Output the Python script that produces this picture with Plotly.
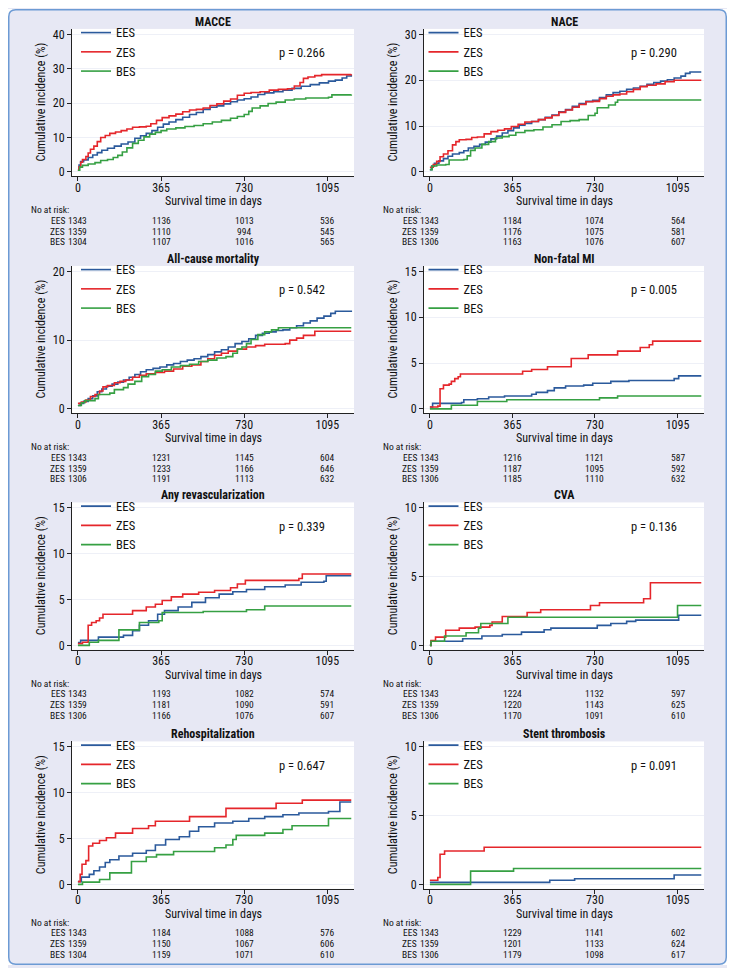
import plotly.graph_objects as go

# page body adds an 8px margin; figure sized to fit the 735x976 window
OFF = 8
W, H = 735 - 2 * OFF, 976 - 2 * OFF

# ------------------------------------------------------------------ data
TICK_DAYS = [0, 365, 730, 1095]
SERIES = ["EES", "ZES", "BES"]
COLORS = {"EES": "#2B5A9C", "ZES": "#E5262B", "BES": "#36A043"}

TITLES = ["MACCE", "NACE", "All-cause mortality", "Non-fatal MI",
          "Any revascularization", "CVA", "Rehospitalization", "Stent thrombosis"]
P_VALUES = ["0.266", "0.290", "0.542", "0.005", "0.339", "0.136", "0.647", "0.091"]
Y_MAX = [40, 30, 20, 15, 15, 10, 15, 10]
Y_STEP = [10, 10, 10, 5, 5, 5, 5, 5]

# MACCE
MACCE_EES_DAY = [0, 5, 12, 25, 45, 65, 85, 105, 130, 160, 190, 220, 250, 275, 300, 325, 350, 375, 400, 430, 460, 490, 520, 550, 580, 610, 640, 670, 700, 730, 760, 790, 820, 860, 900, 940, 980, 1020, 1060, 1100, 1130, 1160, 1180, 1200]
MACCE_EES_PCT = [0.5, 2.0, 3.0, 3.5, 4.2, 4.9, 5.6, 6.3, 6.9, 7.5, 8.1, 8.7, 9.8, 10.5, 11.2, 12.0, 13.0, 13.9, 14.5, 15.2, 15.9, 16.7, 17.3, 18.2, 18.8, 19.2, 19.8, 20.4, 20.9, 21.3, 21.8, 22.5, 23.0, 23.3, 23.8, 24.3, 24.9, 25.4, 25.9, 26.4, 26.7, 27.3, 27.9, 28.3]
MACCE_ZES_DAY = [0, 5, 12, 20, 35, 45, 55, 70, 85, 100, 120, 140, 165, 190, 215, 240, 270, 300, 320, 345, 370, 400, 430, 460, 490, 520, 550, 580, 610, 640, 670, 700, 730, 760, 800, 840, 880, 920, 950, 975, 990, 1010, 1040, 1070, 1200]
MACCE_ZES_PCT = [0.5, 1.5, 2.8, 3.6, 4.5, 5.5, 6.6, 7.5, 8.8, 10.0, 10.6, 11.2, 11.6, 12.0, 12.5, 13.0, 13.1, 13.3, 14.0, 15.0, 15.8, 16.3, 16.8, 17.5, 18.0, 18.2, 18.6, 19.3, 19.8, 20.6, 21.2, 22.3, 22.9, 23.1, 23.3, 23.8, 24.0, 24.2, 25.0, 26.0, 27.2, 27.6, 28.0, 28.3, 28.4]
MACCE_BES_DAY = [0, 8, 20, 45, 75, 100, 130, 155, 175, 195, 215, 240, 265, 290, 315, 340, 365, 390, 430, 470, 510, 550, 590, 630, 670, 700, 730, 750, 765, 800, 835, 870, 910, 950, 1000, 1100, 1115, 1200]
MACCE_BES_PCT = [0.5, 1.4, 1.9, 2.3, 2.7, 3.3, 3.6, 4.2, 4.8, 5.8, 7.0, 8.3, 9.2, 10.2, 11.0, 11.5, 12.0, 12.5, 12.8, 13.2, 13.5, 14.0, 14.5, 15.0, 15.6, 16.1, 16.7, 17.6, 18.6, 19.2, 19.9, 20.3, 20.9, 21.2, 21.5, 21.7, 22.4, 22.5]

# NACE
NACE_EES_DAY = [0, 8, 20, 40, 60, 80, 100, 130, 150, 170, 195, 220, 245, 270, 295, 320, 345, 370, 395, 420, 450, 480, 510, 540, 570, 600, 630, 660, 690, 720, 750, 780, 810, 840, 870, 900, 930, 960, 990, 1020, 1050, 1080, 1110, 1130, 1150, 1200]
NACE_EES_PCT = [0.5, 1.3, 1.9, 2.4, 2.9, 3.4, 3.9, 4.2, 4.6, 5.2, 5.6, 6.0, 6.5, 7.2, 7.8, 8.5, 9.0, 9.6, 10.2, 10.6, 11.0, 11.4, 11.9, 12.4, 13.1, 13.6, 14.3, 14.9, 15.4, 15.6, 16.2, 16.8, 17.3, 17.6, 18.0, 18.3, 18.7, 19.1, 19.5, 19.8, 20.1, 20.5, 20.9, 21.5, 21.8, 21.8]
NACE_ZES_DAY = [0, 15, 30, 45, 60, 80, 100, 115, 130, 160, 185, 210, 240, 270, 300, 330, 360, 390, 420, 450, 480, 510, 540, 570, 600, 630, 660, 690, 720, 750, 780, 810, 840, 870, 900, 930, 960, 1000, 1040, 1080, 1200]
NACE_ZES_PCT = [1.0, 1.6, 2.3, 3.3, 3.9, 4.6, 5.9, 6.6, 7.0, 7.1, 7.5, 7.6, 8.3, 8.8, 9.1, 9.4, 9.9, 10.4, 10.9, 11.0, 11.4, 11.8, 12.3, 13.0, 13.5, 14.1, 14.7, 15.3, 15.4, 16.0, 16.5, 16.8, 17.0, 17.5, 18.0, 18.6, 18.9, 19.2, 19.7, 20.0, 20.0]
NACE_BES_DAY = [0, 10, 30, 70, 85, 150, 165, 180, 200, 230, 260, 290, 320, 350, 380, 420, 460, 500, 540, 580, 620, 660, 700, 730, 740, 790, 820, 830, 1200]
NACE_BES_PCT = [0.5, 1.3, 1.5, 1.6, 2.6, 2.7, 3.5, 4.7, 5.2, 6.0, 6.6, 7.4, 7.7, 8.0, 8.6, 9.0, 9.2, 9.8, 10.3, 11.0, 11.2, 11.4, 12.3, 12.8, 14.0, 14.6, 15.2, 15.7, 15.7]

# All-cause mortality
MORT_EES_DAY = [0, 10, 25, 45, 65, 85, 105, 125, 150, 175, 200, 225, 250, 275, 300, 330, 360, 390, 420, 450, 480, 510, 540, 570, 600, 630, 660, 690, 720, 750, 780, 810, 840, 870, 900, 930, 960, 990, 1020, 1050, 1080, 1110, 1130, 1200]
MORT_EES_PCT = [0.5, 0.8, 1.1, 1.5, 1.9, 2.5, 2.9, 3.3, 3.6, 3.9, 4.2, 4.6, 5.0, 5.4, 5.7, 5.9, 6.1, 6.4, 6.6, 6.9, 7.1, 7.3, 7.6, 7.9, 8.3, 8.6, 9.0, 9.5, 9.8, 10.2, 10.7, 11.0, 11.2, 11.4, 11.5, 11.8, 12.1, 12.5, 12.8, 13.2, 13.5, 13.9, 14.2, 14.3]
MORT_ZES_DAY = [0, 15, 35, 55, 75, 95, 110, 130, 160, 185, 210, 240, 270, 300, 340, 380, 420, 460, 500, 540, 570, 600, 630, 660, 700, 740, 780, 820, 910, 930, 960, 990, 1040, 1200]
MORT_ZES_PCT = [0.8, 1.0, 1.3, 1.8, 2.1, 2.6, 3.2, 3.4, 3.8, 4.0, 4.2, 4.6, 4.9, 5.1, 5.3, 5.5, 5.8, 6.2, 6.4, 6.9, 7.3, 7.8, 8.1, 8.4, 8.7, 9.0, 9.2, 9.4, 9.5, 10.0, 10.3, 10.7, 11.3, 11.3]
MORT_BES_DAY = [0, 15, 30, 75, 90, 140, 160, 200, 220, 250, 280, 310, 340, 370, 410, 450, 490, 530, 570, 610, 650, 680, 700, 720, 740, 760, 790, 820, 850, 880, 1200]
MORT_BES_PCT = [0.5, 0.9, 1.2, 1.5, 2.1, 2.3, 2.8, 3.1, 3.6, 4.0, 4.7, 5.0, 5.5, 5.7, 6.1, 6.3, 6.5, 6.9, 7.1, 7.4, 7.6, 8.1, 8.7, 9.0, 9.5, 10.1, 10.8, 11.2, 11.5, 11.8, 11.8]

# Non-fatal MI
MI_EES_DAY = [0, 12, 140, 150, 210, 260, 330, 450, 470, 520, 550, 600, 680, 720, 800, 880, 1080, 1100, 1200]
MI_EES_PCT = [0.2, 0.6, 0.7, 1.0, 1.1, 1.3, 1.4, 1.6, 1.8, 2.0, 2.3, 2.5, 2.6, 2.8, 3.0, 3.1, 3.3, 3.6, 3.6]
MI_ZES_DAY = [0, 35, 45, 60, 85, 95, 110, 125, 135, 400, 410, 450, 520, 620, 625, 700, 830, 930, 970, 985, 1200]
MI_ZES_PCT = [0.2, 0.3, 2.2, 2.6, 2.7, 3.0, 3.3, 3.5, 3.8, 3.8, 4.1, 4.3, 4.6, 4.6, 5.5, 5.9, 6.3, 6.7, 7.0, 7.4, 7.4]
MI_BES_DAY = [0, 95, 210, 340, 750, 830, 1200]
MI_BES_PCT = [0.0, 0.4, 0.8, 1.0, 1.2, 1.4, 1.4]

# Any revascularization
REV_EES_DAY = [0, 12, 90, 200, 240, 270, 310, 350, 380, 440, 500, 560, 620, 680, 740, 820, 910, 980, 1080, 1090, 1200]
REV_EES_PCT = [0.3, 0.55, 0.9, 1.1, 1.6, 2.2, 2.7, 3.4, 3.8, 4.2, 4.7, 5.2, 5.6, 5.85, 6.1, 6.4, 6.6, 6.9, 7.0, 7.6, 7.6]
REV_ZES_DAY = [0, 20, 45, 60, 80, 95, 110, 240, 300, 340, 370, 410, 460, 530, 600, 670, 700, 735, 970, 985, 1200]
REV_ZES_PCT = [0.2, 0.35, 2.2, 2.5, 2.7, 3.0, 3.4, 3.8, 4.2, 4.5, 4.9, 5.3, 5.6, 5.8, 6.0, 6.3, 6.7, 7.1, 7.3, 7.8, 7.8]
REV_BES_DAY = [0, 50, 90, 180, 270, 355, 370, 550, 740, 820, 1200]
REV_BES_PCT = [0.0, 0.35, 0.55, 1.7, 2.5, 2.7, 3.6, 3.7, 3.9, 4.3, 4.3]

# CVA
CVA_EES_DAY = [0, 5, 145, 230, 320, 405, 505, 535, 740, 800, 870, 910, 1100, 1200]
CVA_EES_PCT = [0.0, 0.3, 0.49, 0.68, 0.8, 0.97, 1.14, 1.26, 1.46, 1.6, 1.75, 1.84, 2.2, 2.2]
CVA_ZES_DAY = [0, 5, 25, 70, 130, 200, 265, 275, 320, 430, 490, 710, 750, 945, 975, 1200]
CVA_ZES_PCT = [0.0, 0.36, 0.6, 1.1, 1.26, 1.33, 1.46, 1.7, 2.1, 2.4, 2.6, 2.9, 3.1, 3.4, 4.56, 4.56]
CVA_BES_DAY = [0, 5, 65, 160, 215, 225, 345, 1095, 1200]
CVA_BES_PCT = [0.0, 0.3, 0.68, 0.92, 1.26, 1.6, 2.05, 2.9, 2.9]

# Rehospitalization
REH_EES_DAY = [0, 15, 50, 70, 95, 120, 140, 180, 240, 300, 340, 385, 445, 490, 530, 600, 680, 750, 820, 900, 970, 1100, 1150, 1200]
REH_EES_PCT = [0.3, 0.8, 1.1, 1.5, 1.9, 2.4, 2.7, 3.1, 3.4, 3.7, 4.3, 4.9, 5.2, 5.8, 6.3, 6.7, 6.9, 7.2, 7.4, 7.6, 7.8, 7.95, 9.0, 9.0]
REH_ZES_DAY = [0, 10, 18, 35, 47, 65, 95, 125, 165, 240, 310, 340, 490, 650, 870, 985, 1200]
REH_ZES_PCT = [0.3, 1.1, 2.2, 2.6, 4.2, 4.5, 4.8, 5.1, 5.6, 6.1, 6.4, 6.9, 7.4, 8.3, 8.85, 9.2, 9.2]
REH_BES_DAY = [0, 20, 95, 140, 235, 300, 345, 420, 600, 650, 680, 695, 820, 900, 940, 1100, 1200]
REH_BES_PCT = [0.0, 0.25, 0.54, 1.26, 2.5, 3.0, 3.25, 3.6, 4.0, 4.3, 4.9, 5.35, 5.6, 6.0, 6.4, 7.2, 7.2]

# Stent thrombosis
ST_EES_DAY = [0, 530, 640, 1080, 1200]
ST_EES_PCT = [0.15, 0.3, 0.41, 0.68, 0.68]
ST_ZES_DAY = [0, 35, 45, 65, 240, 1200]
ST_ZES_PCT = [0.3, 0.5, 2.2, 2.43, 2.7, 2.7]
ST_BES_DAY = [0, 180, 370, 1200]
ST_BES_PCT = [0.0, 0.97, 1.16, 1.16]

# Numbers at risk (at 0, 365, 730, 1095 days)
MACCE_RISK_EES = [1343, 1136, 1013, 536]
MACCE_RISK_ZES = [1359, 1110, 994, 545]
MACCE_RISK_BES = [1304, 1107, 1016, 565]
NACE_RISK_EES = [1343, 1184, 1074, 564]
NACE_RISK_ZES = [1359, 1176, 1075, 581]
NACE_RISK_BES = [1306, 1163, 1076, 607]
MORT_RISK_EES = [1343, 1231, 1145, 604]
MORT_RISK_ZES = [1359, 1233, 1166, 646]
MORT_RISK_BES = [1306, 1191, 1113, 632]
MI_RISK_EES = [1343, 1216, 1121, 587]
MI_RISK_ZES = [1359, 1187, 1095, 592]
MI_RISK_BES = [1306, 1185, 1110, 632]
REV_RISK_EES = [1343, 1193, 1082, 574]
REV_RISK_ZES = [1359, 1181, 1090, 591]
REV_RISK_BES = [1306, 1166, 1076, 607]
CVA_RISK_EES = [1343, 1224, 1132, 597]
CVA_RISK_ZES = [1359, 1220, 1143, 625]
CVA_RISK_BES = [1306, 1170, 1091, 610]
REH_RISK_EES = [1343, 1184, 1088, 576]
REH_RISK_ZES = [1359, 1150, 1067, 606]
REH_RISK_BES = [1304, 1159, 1071, 610]
ST_RISK_EES = [1343, 1229, 1141, 602]
ST_RISK_ZES = [1359, 1201, 1133, 624]
ST_RISK_BES = [1306, 1179, 1098, 617]

CURVES = [
    {"EES": (MACCE_EES_DAY, MACCE_EES_PCT), "ZES": (MACCE_ZES_DAY, MACCE_ZES_PCT), "BES": (MACCE_BES_DAY, MACCE_BES_PCT)},
    {"EES": (NACE_EES_DAY, NACE_EES_PCT), "ZES": (NACE_ZES_DAY, NACE_ZES_PCT), "BES": (NACE_BES_DAY, NACE_BES_PCT)},
    {"EES": (MORT_EES_DAY, MORT_EES_PCT), "ZES": (MORT_ZES_DAY, MORT_ZES_PCT), "BES": (MORT_BES_DAY, MORT_BES_PCT)},
    {"EES": (MI_EES_DAY, MI_EES_PCT), "ZES": (MI_ZES_DAY, MI_ZES_PCT), "BES": (MI_BES_DAY, MI_BES_PCT)},
    {"EES": (REV_EES_DAY, REV_EES_PCT), "ZES": (REV_ZES_DAY, REV_ZES_PCT), "BES": (REV_BES_DAY, REV_BES_PCT)},
    {"EES": (CVA_EES_DAY, CVA_EES_PCT), "ZES": (CVA_ZES_DAY, CVA_ZES_PCT), "BES": (CVA_BES_DAY, CVA_BES_PCT)},
    {"EES": (REH_EES_DAY, REH_EES_PCT), "ZES": (REH_ZES_DAY, REH_ZES_PCT), "BES": (REH_BES_DAY, REH_BES_PCT)},
    {"EES": (ST_EES_DAY, ST_EES_PCT), "ZES": (ST_ZES_DAY, ST_ZES_PCT), "BES": (ST_BES_DAY, ST_BES_PCT)},
]
RISKS = [
    {"EES": MACCE_RISK_EES, "ZES": MACCE_RISK_ZES, "BES": MACCE_RISK_BES},
    {"EES": NACE_RISK_EES, "ZES": NACE_RISK_ZES, "BES": NACE_RISK_BES},
    {"EES": MORT_RISK_EES, "ZES": MORT_RISK_ZES, "BES": MORT_RISK_BES},
    {"EES": MI_RISK_EES, "ZES": MI_RISK_ZES, "BES": MI_RISK_BES},
    {"EES": REV_RISK_EES, "ZES": REV_RISK_ZES, "BES": REV_RISK_BES},
    {"EES": CVA_RISK_EES, "ZES": CVA_RISK_ZES, "BES": CVA_RISK_BES},
    {"EES": REH_RISK_EES, "ZES": REH_RISK_ZES, "BES": REH_RISK_BES},
    {"EES": ST_RISK_EES, "ZES": ST_RISK_ZES, "BES": ST_RISK_BES},
]

# ------------------------------------------------------------------ geometry (window pixels)
FONT = ("Roboto Condensed, Liberation Sans Narrow, Noto Sans Condensed, "
        "Open Sans Condensed, Liberation Sans, sans-serif")
COL_LEFT = [72, 424]
COL_RIGHT = [354, 704]
ROW_TOP = [28, 266, 503.5, 743.5]
PLOT_H = 148
X_RANGE = [-26, 1212]
LEGEND_X = [76, 423.5]
BG = "#E7E8F4"
BORDER = "#6C9AD4"
TXT = "#111111"
F_TICK, F_AX, F_LEG, F_P, F_TITLE, F_RISK = 12, 12, 12.5, 12.5, 12, 9.5


def px(x):
    return (x - OFF) / W


def py(y):
    return 1 - (y - OFF) / H


fig = go.Figure()
layout = dict(
    width=W, height=H, autosize=False,
    margin=dict(l=0, r=0, t=0, b=0, pad=0),
    paper_bgcolor=BG, plot_bgcolor="white",
    font=dict(family=FONT, color=TXT, size=12),
    showlegend=True,
)
annotations = []

for i in range(8):
    r, c = divmod(i, 2)
    n = i + 1
    sfx = "" if n == 1 else str(n)
    xa, ya = "x" + sfx, "y" + sfx
    leg = "legend" + sfx
    x0, x1 = COL_LEFT[c], COL_RIGHT[c]
    top = ROW_TOP[r]
    bot = top + PLOT_H
    ymax = Y_MAX[i]

    for s in SERIES:
        d, v = CURVES[i][s]
        fig.add_trace(go.Scatter(
            x=d, y=v, mode="lines", name=s, xaxis=xa, yaxis=ya, legend=leg,
            line=dict(color=COLORS[s], width=1.6, shape="hv"),
            hoverinfo="skip",
        ))

    layout["xaxis" + sfx] = dict(
        domain=[px(x0), px(x1)], anchor=ya, range=X_RANGE,
        tickmode="array", tickvals=TICK_DAYS, ticktext=[str(t) for t in TICK_DAYS],
        ticks="outside", ticklen=4, tickcolor="#222", tickwidth=1, ticklabelstandoff=-4,
        showline=True, linecolor="#222", linewidth=1, mirror=False,
        showgrid=False, zeroline=False, tickfont=dict(size=F_TICK, family=FONT, color=TXT),
    )
    layout["yaxis" + sfx] = dict(
        domain=[py(bot), py(top)], anchor=xa,
        range=[-0.032 * ymax, 1.04 * ymax],
        tickmode="array", tickvals=list(range(0, ymax + 1, Y_STEP[i])),
        ticks="outside", ticklen=4, tickcolor="#222", tickwidth=1,
        showline=True, linecolor="#222", linewidth=1, mirror=False,
        showgrid=True, gridcolor="#EEF0F7", gridwidth=1, zeroline=False,
        tickfont=dict(size=F_TICK, family=FONT, color=TXT),
    )
    layout[leg] = dict(
        x=px(LEGEND_X[c]), y=py(top - 11), xref="paper", yref="paper",
        xanchor="left", yanchor="top", bgcolor="rgba(0,0,0,0)",
        font=dict(size=F_LEG, family=FONT, color=TXT), itemwidth=30,
        tracegroupgap=0, traceorder="normal",
    )

    xd, yd = xa + " domain", ya + " domain"
    annotations.append(dict(text="<b>%s</b>" % TITLES[i], xref=xd, yref=yd, x=0.5, y=1,
                            yshift=7, xanchor="center", yanchor="middle", showarrow=False,
                            font=dict(size=F_TITLE, family=FONT, color=TXT)))
    annotations.append(dict(text="p = %s" % P_VALUES[i], xref=xd, yref=yd, x=0, y=1,
                            xshift=205, yshift=-24, xanchor="left", yanchor="middle",
                            showarrow=False, font=dict(size=F_P, family=FONT, color=TXT)))
    annotations.append(dict(text="Survival time in days", xref=xd, yref=yd, x=0.5, y=0,
                            yshift=-25, xanchor="center", yanchor="middle", showarrow=False,
                            font=dict(size=F_AX, family=FONT, color=TXT)))
    annotations.append(dict(text="Cumulative incidence (%)", xref=xd, yref=yd, x=0, y=0.5,
                            xshift=-31, xanchor="center", yanchor="middle", textangle=-90,
                            showarrow=False, font=dict(size=F_AX, family=FONT, color=TXT)))
    annotations.append(dict(text="No at risk:", xref=xd, yref=yd, x=0, y=0,
                            xshift=-43, yshift=-33.5, xanchor="left", yanchor="middle",
                            showarrow=False, font=dict(size=F_RISK, family=FONT, color=TXT)))
    for k, s in enumerate(SERIES):
        dy = -(44 + 10.7 * k)
        annotations.append(dict(text=s, xref=xd, yref=yd, x=0, y=0, xshift=-5, yshift=dy,
                                xanchor="right", yanchor="middle", showarrow=False,
                                font=dict(size=F_RISK, family=FONT, color=TXT)))
        for t, val in zip(TICK_DAYS, RISKS[i][s]):
            annotations.append(dict(text=str(val), xref=xa, yref=yd, x=t, y=0, yshift=dy,
                                    xanchor="center", yanchor="middle", showarrow=False,
                                    font=dict(size=F_RISK, family=FONT, color=TXT)))

# rounded blue frame at the figure edge, white outside the rounded corners
RAD = 7
E = 0.75


def rpath(x0, y0, x1, y1, r):
    X = lambda v: v / W
    Y = lambda v: 1 - v / H
    return ("M {a},{b} L {c},{b} Q {e},{b} {e},{f} L {e},{g} Q {e},{h} {c},{h} "
            "L {a},{h} Q {i},{h} {i},{g} L {i},{f} Q {i},{b} {a},{b} Z").format(
        a=X(x0 + r), b=Y(y0), c=X(x1 - r), e=X(x1), f=Y(y0 + r), g=Y(y1 - r),
        h=Y(y1), i=X(x0))


inner = rpath(E, E, W - E, H - E, RAD)
shapes = [
    dict(type="path", xref="paper", yref="paper", layer="below",
         path="M 0,0 L 1,0 L 1,1 L 0,1 Z " + inner, fillrule="evenodd",
         fillcolor="white", line=dict(width=0)),
    dict(type="path", xref="paper", yref="paper", layer="above",
         path=inner, fillcolor="rgba(0,0,0,0)", line=dict(color=BORDER, width=1.5)),
]

layout["annotations"] = annotations
layout["shapes"] = shapes
fig.update_layout(**layout)
fig.write_html("out.html")
